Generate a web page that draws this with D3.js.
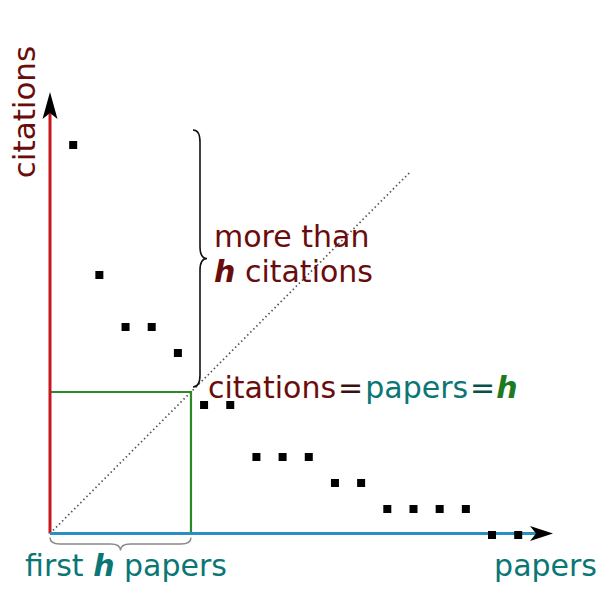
<!DOCTYPE html>
<html><head><meta charset="utf-8">
<script src="https://cdn.jsdelivr.net/npm/d3@7"></script>
<style>body{margin:0;background:#fff}svg{display:block}text{font-family:"DejaVu Sans",sans-serif}</style>
</head><body><div id="chart"></div>
<script>
// data
const papers = [1,2,3,4,5,6,7,8,9,10,11,12,13,14,15,16,17,18];
const citations = [15,10,8,8,7,5,5,3,3,3,2,2,1,1,1,1,0,0];
const hIndex = 5;
const xLabel = "papers";
const yLabel = "citations";

const W = 600, H = 600;
const svg = d3.select("#chart").append("svg").attr("width", W).attr("height", H);

const x = d3.scaleLinear().domain([0, 18]).range([47, 518.2]);
const y = d3.scaleLinear().domain([0, 15]).range([535, 145]);
const ox = 50, oy = 533.5;

const cRed = "#6b0c0c", cTeal = "#0b7676", cGreen = "#1f7a1f";

// diagonal dotted line citations = papers
const cx = x(hIndex + 0.5), cy = y(hIndex + 0.5);
const k = 2.553;
svg.append("line").attr("x1", ox).attr("y1", oy)
  .attr("x2", ox + (cx - ox) * k).attr("y2", oy + (cy - oy) * k)
  .attr("stroke", "#555").attr("stroke-width", 1.7).attr("stroke-dasharray", "1.5,2.8");

// h box
svg.append("path")
  .attr("d", `M${ox},${cy}H${cx}V${oy}`)
  .attr("fill", "none").attr("stroke", "#2a8a2a").attr("stroke-width", 2.2);

// axes
svg.append("line").attr("x1", ox).attr("y1", oy).attr("x2", ox).attr("y2", 112)
  .attr("stroke", "#c8161d").attr("stroke-width", 3);
svg.append("line").attr("x1", ox).attr("y1", oy).attr("x2", 537).attr("y2", oy)
  .attr("stroke", "#2a8fc2").attr("stroke-width", 3);
// arrowheads
svg.append("path").attr("d", `M${ox},92 L${ox+7.5},119 L${ox},113 L${ox-7.5},119 Z`).attr("fill", "#000");
svg.append("path").attr("d", `M553,${oy} L530,${oy-7.5} L536,${oy} L530,${oy+7.5} Z`).attr("fill", "#000");

// points
const s = 8;
svg.selectAll("rect.pt").data(papers).join("rect").attr("class", "pt")
  .attr("x", (d) => x(d) - s/2)
  .attr("y", (d, i) => y(citations[i]) - s/2)
  .attr("width", s).attr("height", s).attr("fill", "#000");

// braces
function vBrace(x0, y0, y1, w) {
  const ym = (y0 + y1) / 2, xs = x0 + w * 0.5, q = 12;
  return `M${x0},${y0} Q${xs},${y0} ${xs},${y0+q} L${xs},${ym-q} Q${xs},${ym} ${x0+w},${ym} Q${xs},${ym} ${xs},${ym+q} L${xs},${y1-q} Q${xs},${y1} ${x0},${y1}`;
}
function hBrace(x0, x1, y0, w) {
  const xm = (x0 + x1) / 2, ys = y0 + w * 0.5, q = 10;
  return `M${x0},${y0} Q${x0},${ys} ${x0+q},${ys} L${xm-q},${ys} Q${xm},${ys} ${xm},${y0+w} Q${xm},${ys} ${xm+q},${ys} L${x1-q},${ys} Q${x1},${ys} ${x1},${y0}`;
}
svg.append("path").attr("d", vBrace(193, y(15) - 15, cy - 5, 14))
  .attr("fill", "none").attr("stroke", "#111").attr("stroke-width", 1.6);
svg.append("path").attr("d", hBrace(ox, cx, 537.5, 13))
  .attr("fill", "none").attr("stroke", "#888").attr("stroke-width", 1.4);

// labels
const fs = 30;
svg.append("text").attr("transform", `translate(35,112) rotate(-90)`)
  .attr("text-anchor", "middle").attr("font-size", fs + 1).attr("fill", cRed).text(yLabel);
svg.append("text").attr("x", 597).attr("y", 576).attr("text-anchor", "end")
  .attr("font-size", fs).attr("fill", cTeal).text(xLabel);

svg.append("text").attr("x", 214).attr("y", 247).attr("font-size", fs).attr("fill", cRed).text("more than");
const t2 = svg.append("text").attr("x", 214).attr("y", 282).attr("font-size", fs).attr("fill", cRed);
t2.append("tspan").attr("font-weight", "bold").attr("font-style", "italic").text("h");
t2.append("tspan").text(" citations");

const t3 = svg.append("text").attr("x", 208).attr("y", 398).attr("font-size", fs);
t3.append("tspan").attr("fill", cRed).text("citations");
t3.append("tspan").attr("fill", "#3a1010").attr("dx", 2).text("=");
t3.append("tspan").attr("fill", cTeal).attr("dx", 2).text("papers");
t3.append("tspan").attr("fill", "#0a4f4f").attr("dx", 2).text("=");
t3.append("tspan").attr("fill", cGreen).attr("dx", 1).attr("font-weight", "bold").attr("font-style", "italic").text("h");

const t4 = svg.append("text").attr("x", 25).attr("y", 576).attr("font-size", fs).attr("fill", cTeal);
t4.append("tspan").text("first ");
t4.append("tspan").attr("font-weight", "bold").attr("font-style", "italic").text("h");
t4.append("tspan").text(" papers");
</script></body></html>
